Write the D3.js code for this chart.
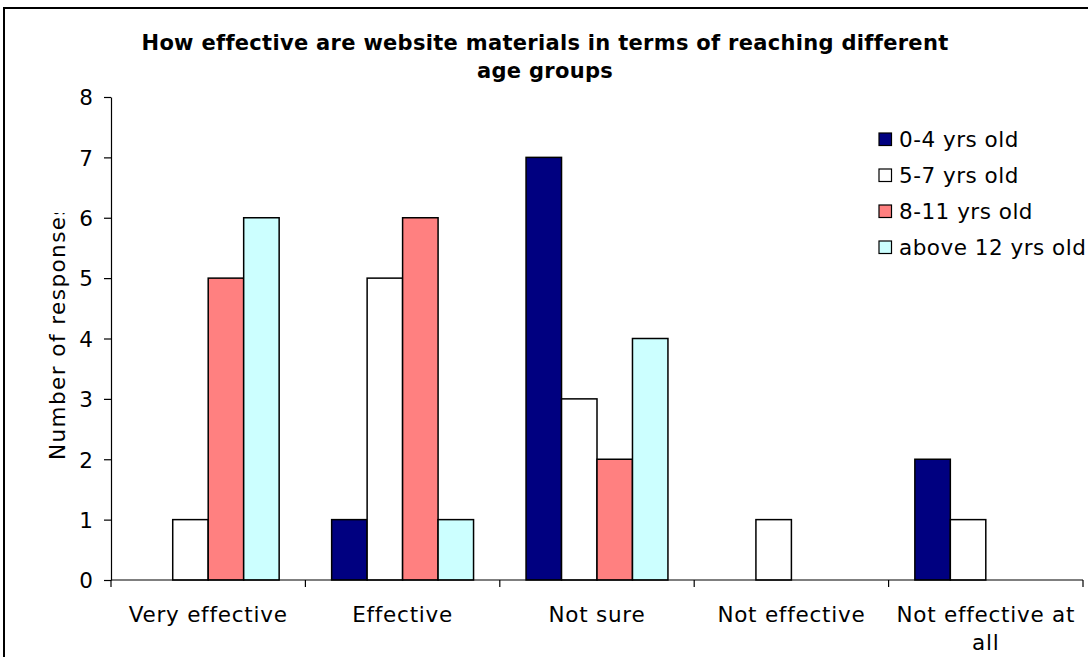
<!DOCTYPE html>
<html><head><meta charset="utf-8">
<script src="https://cdn.jsdelivr.net/npm/d3@7/dist/d3.min.js"></script>
<style>body{margin:0;background:#fff}svg{display:block}text{font-family:"DejaVu Sans",Verdana,sans-serif}</style>
</head><body><svg id="c" width="1088" height="657"></svg>
<script>
const categories = ["Very effective","Effective","Not sure","Not effective","Not effective at all"];
const seriesNames = ["0-4 yrs old","5-7 yrs old","8-11 yrs old","above 12 yrs old"];
const age0_4   = [0,1,7,0,2];
const age5_7   = [1,5,3,1,1];
const age8_11  = [5,6,2,0,0];
const age12up  = [6,1,4,0,0];
const colors = ["#000080","#FFFFFF","#FF8080","#CCFFFF"];
const yTicks = [0,1,2,3,4,5,6,7,8];
const titleLines = ["How effective are website materials in terms of reaching different","age groups"];
const yLabel = "Number of responses";

const series = [age0_4, age5_7, age8_11, age12up];
const svg = d3.select("#c");
const L = 111, R = 1083, T = 97, B = 580;
const FS = 21.5, LS = 0.75;

// outer border
svg.append("rect").attr("x",4).attr("y",8).attr("width",1100).attr("height",700)
  .attr("fill","none").attr("stroke","#000").attr("stroke-width",2);

const x0 = d3.scaleBand().domain(categories).range([L,R]).paddingInner(0).paddingOuter(0);
const x1 = d3.scaleBand().domain(d3.range(series.length)).range([0,x0.bandwidth()]).paddingInner(0).paddingOuter(0.74);
const y = d3.scaleLinear().domain([0,8]).range([B,T]);

// title
svg.append("g").selectAll("text").data(titleLines).join("text")
  .attr("x",545).attr("y",(d,i)=>50+i*28).attr("text-anchor","middle")
  .attr("font-weight","bold").attr("font-size",21).attr("letter-spacing",0.3).text(d=>d);

// bars
const g = svg.append("g");
categories.forEach((c,ci)=>{
  series.forEach((s,si)=>{
    if (s[ci] > 0) {
      g.append("rect").attr("x",x0(c)+x1(si)).attr("width",x1.bandwidth())
        .attr("y",y(s[ci])).attr("height",y(0)-y(s[ci]))
        .attr("fill",colors[si]).attr("stroke","#000").attr("stroke-width",1.5);
    }
  });
});

// y axis
const ya = svg.append("g").attr("transform",`translate(${L},0)`)
  .call(d3.axisLeft(y).tickValues(yTicks).tickSize(7).tickPadding(11).tickSizeOuter(0));
ya.select(".domain").attr("stroke","#000").attr("stroke-width",1.2);
ya.selectAll("line").attr("stroke","#000").attr("stroke-width",1.2);
ya.selectAll("text").attr("font-size",FS).attr("font-family","DejaVu Sans").attr("fill","#000").attr("dy","0.36em");

// x axis
const bounds = categories.map(c=>x0(c)).concat([R]);
svg.append("line").attr("x1",L).attr("x2",R).attr("y1",B).attr("y2",B).attr("stroke","#000").attr("stroke-width",1.2);
svg.append("g").selectAll("line").data(bounds).join("line")
  .attr("x1",d=>d).attr("x2",d=>d).attr("y1",B).attr("y2",B+7).attr("stroke","#000").attr("stroke-width",1.2);

// category labels (wrap)
const wrapLines = {"Not effective at all":["Not effective at","all"]};
categories.forEach(c=>{
  const lines = wrapLines[c] || [c];
  const t = svg.append("text").attr("text-anchor","middle").attr("font-size",FS).attr("letter-spacing",LS);
  lines.forEach((ln,i)=>{
    t.append("tspan").attr("x",x0(c)+x0.bandwidth()/2).attr("y",622+i*28).text(ln);
  });
});

// y label (clipped at the top like the reference)
svg.append("clipPath").attr("id","yl").append("rect").attr("x",0).attr("y",213).attr("width",100).attr("height",400);
svg.append("g").attr("clip-path","url(#yl)").append("text")
  .attr("transform","translate(65,460) rotate(-90)").attr("text-anchor","start")
  .attr("font-size",FS).attr("letter-spacing",1.45).text(yLabel);

// legend
const lg = svg.append("g");
seriesNames.forEach((n,i)=>{
  lg.append("rect").attr("x",879).attr("y",133+i*36).attr("width",12.5).attr("height",12.5)
    .attr("fill",colors[i]).attr("stroke","#000").attr("stroke-width",1.2);
  lg.append("text").attr("x",899).attr("y",147+i*36).attr("font-size",FS).attr("letter-spacing",0.5).text(n);
});
</script></body></html>
